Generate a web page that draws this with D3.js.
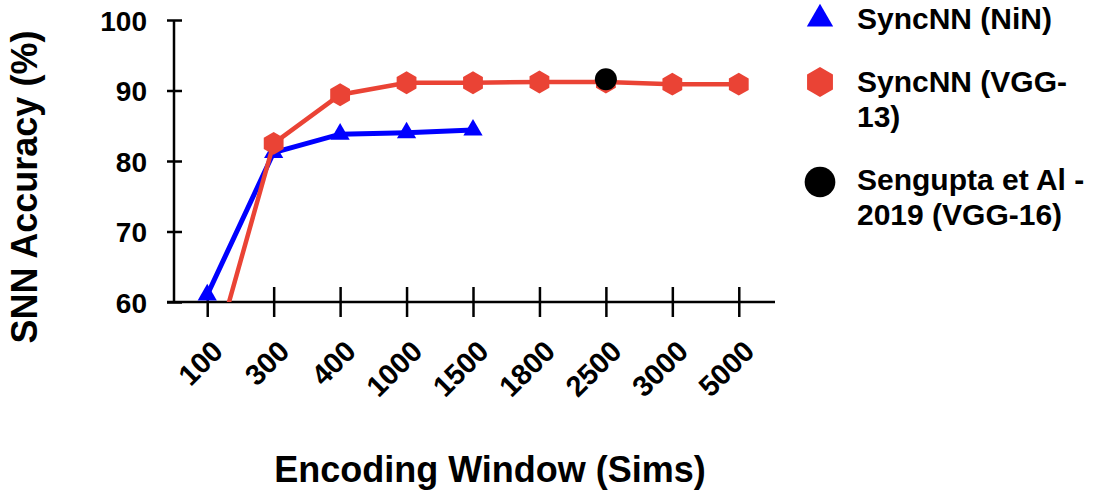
<!DOCTYPE html>
<html>
<head>
<meta charset="utf-8">
<script src="https://cdn.jsdelivr.net/npm/d3@7"></script>
<style>
  body { margin: 0; background: #fff; }
  text { font-family: "Liberation Sans", Arial, sans-serif; font-weight: bold; fill: #000; }
</style>
</head>
<body>
<div id="chart"></div>
<script>
// categories on the x axis (encoding window, in sims)
const windows = ["100", "300", "400", "1000", "1500", "1800", "2500", "3000", "5000"];
const yTicks = [60, 70, 80, 90, 100];

// SyncNN (NiN)
const ninWindows = ["100", "300", "400", "1000", "1500"];
const ninAcc = [61.0, 81.2, 83.8, 84.0, 84.4];

// SyncNN (VGG-13); the first point sits below the axis and is clipped
const vggWindows = ["100", "300", "400", "1000", "1500", "1800", "2500", "3000", "5000"];
const vggAcc = [49.0, 82.5, 89.4, 91.1, 91.1, 91.2, 91.2, 90.9, 90.9];

// Sengupta et Al - 2019 (VGG-16)
const senguptaWindows = ["2500"];
const senguptaAcc = [91.6];

const legendLabels = [
    ["SyncNN (NiN)"],
    ["SyncNN (VGG-", "13)"],
    ["Sengupta et Al -", "2019 (VGG-16)"],
];

const W = 1095, H = 493;
const margin = { top: 20, left: 174, right: 323, bottom: 191 };
const width = W - margin.left - margin.right;
const height = H - margin.top - margin.bottom;

const RED = "#ea4335", BLUE = "#0000ff";

const svg = d3.select("#chart").append("svg")
    .attr("width", W)
    .attr("height", H);

const g = svg.append("g")
    .attr("transform", `translate(${margin.left},${margin.top})`);

const x = d3.scalePoint().domain(windows).range([0, width]).padding(0.5);
const y = d3.scaleLinear().domain([60, 100]).range([height, 0]);

// pointy-top hexagon marker
const hexagon = {
    draw(ctx, size) {
        const r = Math.sqrt(size / (1.5 * Math.sqrt(3)));
        for (let i = 0; i < 6; i++) {
            const a = Math.PI / 3 * i - Math.PI / 2;
            if (i === 0) ctx.moveTo(r * Math.cos(a), r * Math.sin(a));
            else ctx.lineTo(r * Math.cos(a), r * Math.sin(a));
        }
        ctx.closePath();
    }
};

// axes
const yAxis = g.append("g")
    .call(d3.axisLeft(y).tickValues(yTicks).tickSize(7).tickSizeOuter(0));
yAxis.select(".domain").attr("stroke-width", 2.5).attr("d", `M0,${height}V0`);
yAxis.selectAll(".tick line").attr("x2", -7).attr("x1", 8).attr("stroke-width", 2.5);
yAxis.selectAll(".tick text")
    .attr("x", -27)
    .attr("dy", "0.36em")
    .style("font-size", "28px")
    .style("font-family", "'Liberation Sans', Arial, sans-serif");
yAxis.select(".domain").raise();

const xAxis = g.append("g")
    .attr("transform", `translate(0,${height})`)
    .call(d3.axisBottom(x).tickSize(15).tickSizeOuter(0));
xAxis.select(".domain").attr("stroke-width", 2.5).attr("d", `M-7,0H${width + 3}`);
xAxis.selectAll(".tick line").attr("y1", -15).attr("y2", 15).attr("stroke-width", 2.5);
xAxis.selectAll(".tick text")
    .attr("y", 0)
    .attr("dy", 0)
    .attr("text-anchor", "end")
    .attr("transform", "translate(17,51) rotate(-45)")
    .style("font-size", "29px")
    .style("font-family", "'Liberation Sans', Arial, sans-serif");

// clip for lines so the VGG line stops at the x axis
svg.append("clipPath").attr("id", "plot-clip")
    .append("rect").attr("x", 0).attr("y", -20).attr("width", width + 40).attr("height", height + 20);

const line = d3.line().x(d => x(d[0])).y(d => y(d[1]));

const ninData = ninWindows.map((w, i) => [w, ninAcc[i]]);
const vggData = vggWindows.map((w, i) => [w, vggAcc[i]]);
const sengData = senguptaWindows.map((w, i) => [w, senguptaAcc[i]]);

const plot = g.append("g").attr("clip-path", "url(#plot-clip)");

plot.append("path")
    .attr("d", line(ninData))
    .attr("fill", "none")
    .attr("stroke", BLUE)
    .attr("stroke-width", 5);

plot.selectAll(".nin")
    .data(ninData)
    .join("path")
    .attr("class", "nin")
    .attr("transform", d => `translate(${x(d[0])},${y(d[1])})`)
    .attr("d", d3.symbol(d3.symbolTriangle, 160))
    .attr("fill", BLUE);

plot.append("path")
    .attr("d", line(vggData))
    .attr("fill", "none")
    .attr("stroke", RED)
    .attr("stroke-width", 4.5);

plot.selectAll(".vgg")
    .data(vggData.filter(d => d[1] >= 60))
    .join("path")
    .attr("class", "vgg")
    .attr("transform", d => `translate(${x(d[0])},${y(d[1])})`)
    .attr("d", d3.symbol(hexagon, 340))
    .attr("fill", RED);

plot.selectAll(".seng")
    .data(sengData)
    .join("circle")
    .attr("class", "seng")
    .attr("cx", d => x(d[0]))
    .attr("cy", d => y(d[1]))
    .attr("r", 11)
    .attr("fill", "#000");

// axis titles
svg.append("text")
    .attr("x", 490)
    .attr("y", 482)
    .attr("text-anchor", "middle")
    .style("font-size", "36px")
    .text("Encoding Window (Sims)");

svg.append("text")
    .attr("transform", `translate(37,187) rotate(-90)`)
    .attr("text-anchor", "middle")
    .style("font-size", "36px")
    .text("SNN Accuracy (%)");

// legend
const legendY = [19, 82, 182];
const legendTextY = [29, 92, 190];
const legendSym = [
    d3.symbol(d3.symbolTriangle, 300)(),
    d3.symbol(hexagon, 580)(),
    d3.symbol(d3.symbolCircle, 740)(),
];
const legendCol = [BLUE, RED, "#000"];

const legend = svg.append("g");
legendLabels.forEach((lines, i) => {
    legend.append("path")
        .attr("transform", `translate(820,${legendY[i]})`)
        .attr("d", legendSym[i])
        .attr("fill", legendCol[i]);
    const t = legend.append("text")
        .attr("x", 857)
        .attr("y", legendTextY[i])
        .style("font-size", "30px");
    lines.forEach((s, j) => {
        t.append("tspan").attr("x", 857).attr("dy", j === 0 ? 0 : 35).text(s);
    });
});
</script>
</body>
</html>
